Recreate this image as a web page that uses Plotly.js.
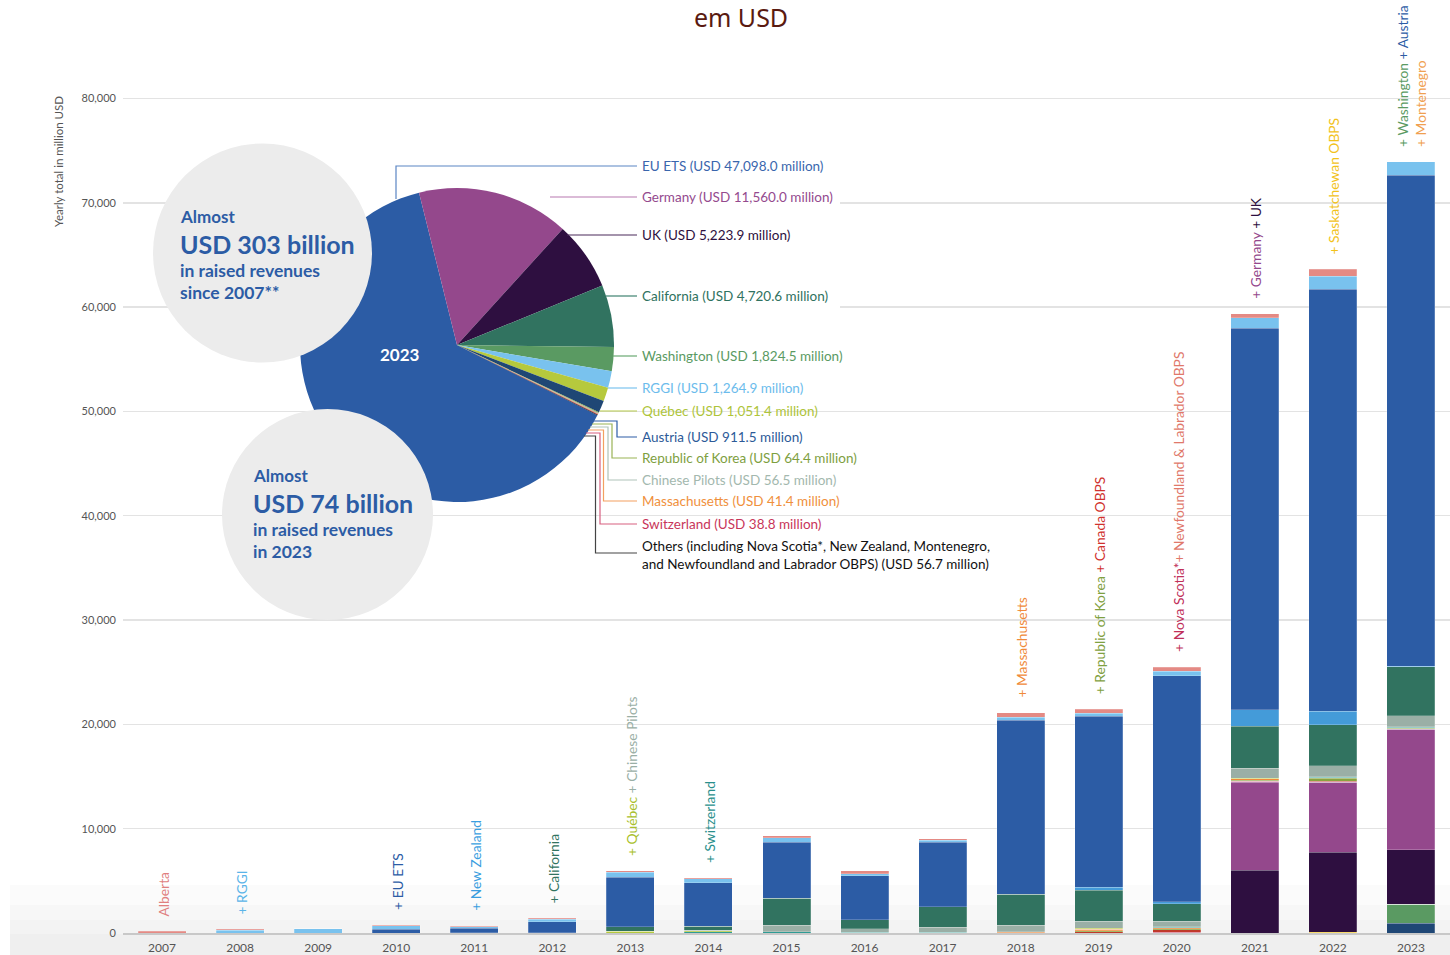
<!DOCTYPE html>
<html>
<head>
<meta charset="utf-8">
<script src="https://cdn.plot.ly/plotly-3.0.1.min.js"></script>
<style>html,body{margin:0;padding:0;background:#fff;}#chart{width:1450px;height:955px;}</style>
</head>
<body>
<div id="chart"></div>
<script>
// ---------------- DATA ----------------
const years = ['2007','2008','2009','2010','2011','2012','2013','2014','2015','2016','2017','2018','2019','2020','2021','2022','2023'];

// stacked series, bottom to top (million USD)
const austria       = [0,0,0,0,0,0,0,0,0,0,0,0,0,0,0,0,911.5];
const washington    = [0,0,0,0,0,0,0,0,0,0,0,0,0,0,0,0,1824.5];
const montenegro    = [0,0,0,0,0,0,0,0,0,0,0,0,0,0,0,0,15];
const saskatchewan  = [0,0,0,0,0,0,0,0,0,0,0,0,0,0,0,60,0];
const uk            = [0,0,0,0,0,0,0,0,0,0,0,0,0,0,6010,7670,5223.9];
const germany       = [0,0,0,0,0,0,0,0,0,0,0,0,0,0,8460,6710,11560];
const newfoundland  = [0,0,0,0,0,0,0,0,0,0,0,0,0,30,20,20,10];
const novaScotia    = [0,0,0,0,0,0,0,0,0,0,0,0,0,60,40,40,20];
const canadaObps    = [0,0,0,0,0,0,0,0,0,0,0,0,120,230,30,30,0];
const korea         = [0,0,0,0,0,0,0,0,0,0,0,0,120,100,80,320,64.4];
const massachusetts = [0,0,0,0,0,0,0,0,0,0,0,60,110,90,130,40,41.4];
const switzerland   = [0,0,0,0,0,0,0,100,100,60,60,40,20,20,30,30,38.8];
const chinesePilots = [0,0,0,0,0,0,150,130,20,20,20,20,80,60,50,40,56.5];
const quebec        = [0,0,0,0,0,0,0,50,640,320,480,640,680,540,960,1050,1051.4];
const california    = [0,0,0,0,0,20,450,380,2560,890,1980,2970,2970,1670,3990,3960,4720.6];
const newZealand    = [0,0,0,0,40,0,0,0,0,0,0,0,290,190,1600,1310,11.7];
const euEts         = [0,0,0,380,400,1050,4730,4150,5400,4190,6160,16670,16400,21680,36580,40450,47098];
const rggi          = [0,250,400,300,150,250,480,380,410,220,190,260,260,410,1020,1250,1264.9];
const alberta       = [150,100,30,70,80,100,170,130,190,260,160,440,380,410,350,670,0];

// 2023 pie (million USD)
const pieLabels = ['EU ETS','Germany','UK','California','Washington','RGGI','Québec','Austria','Republic of Korea','Chinese Pilots','Massachusetts','Switzerland','Others'];
const pieValues = [47098.0,11560.0,5223.9,4720.6,1824.5,1264.9,1051.4,911.5,64.4,56.5,41.4,38.8,56.7];
const othersLegend = 'Others (including Nova Scotia*, New Zealand, Montenegro,<br>and Newfoundland and Labrador OBPS)';

// rotated labels above bars
const barNotes = [
  {year:'2007', parts:[['Alberta','#e07f7f']]},
  {year:'2008', parts:[['+ RGGI','#5ab4e8']]},
  {year:'2010', parts:[['+ EU ETS','#2c5ca5']]},
  {year:'2011', parts:[['+ New Zealand','#3a9ee0']]},
  {year:'2012', parts:[['+ California','#317360']]},
  {year:'2013', parts:[['+ Québec','#a9bf2c'],[' + Chinese Pilots','#9aafa6']]},
  {year:'2014', parts:[['+ Switzerland','#2a8f8c']]},
  {year:'2018', parts:[['+ Massachusetts','#f08a3a']]},
  {year:'2019', parts:[['+ Republic of Korea','#7fa040'],[' + Canada OBPS','#d0312d']]},
  {year:'2020', parts:[['+ Nova Scotia*','#c0305a'],['+ Newfoundland & Labrador OBPS','#e0786a']]},
  {year:'2021', parts:[['+ Germany','#94488c'],[' + UK','#2e0f40']]},
  {year:'2022', parts:[['+ Saskatchewan OBPS','#f2c21a']]},
  {year:'2023', parts:[['+ Washington','#5a9a62'],[' + Austria','#2c5ca5'],['<br>',null],['+ Montenegro','#f0a050']]}
];

// ---------------- STYLE / GEOMETRY ----------------
const FONT = 'Lato, "Noto Sans", sans-serif';
const WIDTH = 1450, HEIGHT = 955, ML = 123, MR = 0, MT = 15, MB = 22;
const PW = WIDTH - ML - MR, PH = HEIGHT - MT - MB, BASE = HEIGHT - MB;
const YMAX = 88000;
const px = x => (x - ML) / PW;           // pixel -> paper x
const py = y => (BASE - y) / PH;         // pixel -> paper y
const cx = x => (x - ML) / PW * years.length - 0.5;  // pixel -> category coord
const cy = y => (BASE - y) / PH * YMAX;               // pixel -> value coord

const series = [
  ['Austria', austria, '#1f4775'],
  ['Washington', washington, '#5a9a62'],
  ['Montenegro', montenegro, '#f0a050'],
  ['Saskatchewan OBPS', saskatchewan, '#f5c518'],
  ['UK', uk, '#2e0f40'],
  ['Germany', germany, '#94488c'],
  ['Newfoundland and Labrador OBPS', newfoundland, '#e0786a'],
  ['Nova Scotia', novaScotia, '#c8365a'],
  ['Canada OBPS', canadaObps, '#c0392b'],
  ['Republic of Korea', korea, '#8aa43f'],
  ['Massachusetts', massachusetts, '#f08a3a'],
  ['Switzerland', switzerland, '#2f9c95'],
  ['Chinese Pilots', chinesePilots, '#b5c93d'],
  ['Québec', quebec, '#9aafa6'],
  ['California', california, '#317360'],
  ['New Zealand', newZealand, '#449bd9'],
  ['EU ETS', euEts, '#2c5ca5'],
  ['RGGI', rggi, '#79c2ee'],
  ['Alberta', alberta, '#e48a84']
];

const pieColors = ['#2c5ca5','#94488c','#2e0f40','#317360','#5a9a62','#79c2ee','#b6c93d','#1f4775','#8aa43f','#a3b8ae','#f28c3c','#c8365a','#111111'];
const pieNoteStyle = [
  {y:166, tc:'#3a66ad', lc:'#5b85c4', path:[[396,199],[396,166],[637,166]]},
  {y:197, tc:'#944a8e', lc:'#b878b0', path:[[550,197],[637,197]]},
  {y:235, tc:'#2e1040', lc:'#4a2a5a', path:[[567,235],[637,235]]},
  {y:296, tc:'#2f7260', lc:'#3f8270', path:[[606,296],[637,296]]},
  {y:356, tc:'#5a9a62', lc:'#6aa872', path:[[613,356],[637,356]]},
  {y:388, tc:'#6cbcec', lc:'#7cc4ee', path:[[608,388],[637,388]]},
  {y:411, tc:'#aec43a', lc:'#b6c94a', path:[[600,411],[637,411]]},
  {y:437, tc:'#2d5a98', lc:'#2c5ca5', path:[[594,421],[617,421],[617,437],[637,437]]},
  {y:458, tc:'#7ea03f', lc:'#9ab355', path:[[592,424],[612,424],[612,458],[637,458]]},
  {y:480, tc:'#a3b8ae', lc:'#b0c4ba', path:[[590,427],[608,427],[608,480],[637,480]]},
  {y:501, tc:'#f0903c', lc:'#f3a060', path:[[588,430],[603.5,430],[603.5,501],[637,501]]},
  {y:524, tc:'#c8365a', lc:'#d86080', path:[[586,433],[600,433],[600,524],[637,524]]},
  {y:555, tc:'#111111', lc:'#444444', path:[[584,436],[595.5,436],[595.5,553],[637,553]]}
];

// ---------------- TRACES ----------------
const traces = series.map(([name, vals, color]) => ({
  type:'bar', name, x:years, y:vals,
  marker:{color, line:{color:'rgba(255,255,255,0.35)', width:0.6}},
  showlegend:false,
  hovertemplate:name+' %{x}: %{y:,.1f}<extra></extra>'
}));

const pieTotal = pieValues.reduce((a,b)=>a+b,0);
const germanyStart = -14;  // angle of EU ETS / Germany boundary
traces.push({
  type:'pie', labels:pieLabels, values:pieValues, sort:false, direction:'clockwise',
  rotation: germanyStart - 360*pieValues[0]/pieTotal,
  marker:{colors:pieColors, line:{width:0}}, textinfo:'none', showlegend:false,
  domain:{x:[px(300), px(614)], y:[py(502), py(188)]},
  hoverinfo:'label+value'
});

const totals = years.map((_, i) => series.reduce((a, s) => a + s[1][i], 0));

// ---------------- ANNOTATIONS ----------------
const fmt = v => v.toLocaleString('en-US',{minimumFractionDigits:1, maximumFractionDigits:1});
const annotations = [];

barNotes.forEach(n => {
  const i = years.indexOf(n.year);
  annotations.push({
    x:i, y:totals[i], xref:'x', yref:'y', showarrow:false,
    textangle:-90, xanchor:'center', yanchor:'bottom', yshift:13, xshift:1, align:'left',
    text:n.parts.map(([t,c]) => c ? `<span style="color:${c}">${t}</span>` : t).join(''),
    font:{family:FONT, size:13.8, color:'#555'}
  });
});

pieLabels.forEach((lab, i) => {
  const st = pieNoteStyle[i];
  const name = lab === 'Others' ? othersLegend : lab;
  annotations.push({
    x:px(640), y:py(st.y), xref:'paper', yref:'paper', showarrow:false,
    xanchor:'left', yanchor:'middle', align:'left',
    text:`${name} (USD ${fmt(pieValues[i])} million)`,
    font:{family:FONT, size:13.5, color:st.tc}
  });
});

const circleText = (x, lines) => lines.forEach(([t, y, size]) => annotations.push({
  x:px(x), y:py(y), xref:'paper', yref:'paper', showarrow:false, xanchor:'left', yanchor:'middle',
  text:'<b>'+t+'</b>', font:{family:FONT, size, color:'#2c5ca5'}
}));
circleText(178, [['Almost',217,17],['USD 303 billion',244,25],['in raised revenues',270,17.5],['since 2007**',292,17.5]]);
circleText(251, [['Almost',476,17],['USD 74 billion',503,25],['in raised revenues',529,17.5],['in 2023',551,17.5]]);

annotations.push({x:px(400), y:py(354), xref:'paper', yref:'paper', showarrow:false, xanchor:'center', yanchor:'middle',
  text:'<b>2023</b>', font:{family:FONT, size:17, color:'#ffffff'}});
annotations.push({x:px(58), y:py(162), xref:'paper', yref:'paper', showarrow:false, textangle:-90,
  xanchor:'center', yanchor:'middle', text:'Yearly total in million USD', font:{family:FONT, size:11.5, color:'#555'}});

// ---------------- SHAPES ----------------
const shapes = [];
[885, 905, 920, 934].forEach(y0 => shapes.push({type:'rect', xref:'paper', yref:'paper', layer:'below',
  x0:px(10), x1:px(1450), y0:py(955), y1:py(y0), fillcolor:'rgba(0,0,0,0.016)', line:{width:0}}));
// white patch hiding grid behind pie labels
shapes.push({type:'rect', xref:'x', yref:'y', layer:'between', x0:cx(358), x1:cx(840), y0:cy(313), y1:cy(192),
  fillcolor:'#ffffff', line:{width:0}});
// circles
shapes.push({type:'circle', xref:'paper', yref:'paper', layer:'above', x0:px(153), x1:px(372), y0:py(362.5), y1:py(143.5),
  fillcolor:'#ececec', line:{width:0}});
shapes.push({type:'circle', xref:'paper', yref:'paper', layer:'above', x0:px(222), x1:px(433), y0:py(620), y1:py(409),
  fillcolor:'#ececec', line:{width:0}});
// leader lines
pieNoteStyle.forEach(st => {
  const d = st.path.map((p, k) => (k ? 'L' : 'M') + px(p[0]) + ',' + py(p[1])).join(' ');
  shapes.push({type:'path', xref:'paper', yref:'paper', layer:'above', path:d, line:{color:st.lc, width:1.2}});
});

// ---------------- LAYOUT ----------------
const layout = {
  width:WIDTH, height:HEIGHT,
  margin:{l:ML, r:MR, t:MT, b:MB, pad:0},
  paper_bgcolor:'#ffffff', plot_bgcolor:'rgba(0,0,0,0)',
  font:{family:FONT, color:'#555'},
  barmode:'stack', bargap:0.385,
  title:{text:'em USD', font:{family:'"Noto Sans", sans-serif', size:25, color:'#5a1a10'},
    x:741/WIDTH, xref:'container', xanchor:'center', y:1-18/HEIGHT, yref:'container', yanchor:'middle'},
  xaxis:{type:'category', range:[-0.5, years.length-0.5], showgrid:false, zeroline:false,
    showline:true, linecolor:'#c8c8c8', linewidth:2, ticks:'', ticklabelstandoff:3,
    tickfont:{size:12, color:'#555'}, fixedrange:true},
  yaxis:{range:[0, YMAX], tickvals:[0,10000,20000,30000,40000,50000,60000,70000,80000], tickformat:',d',
    showgrid:true, gridcolor:'#e3e3e3', gridwidth:1.5, zeroline:false, ticks:'', ticklabelstandoff:6,
    tickfont:{size:11, color:'#555'}, fixedrange:true},
  annotations, shapes, showlegend:false
};

Plotly.newPlot('chart', traces, layout, {displayModeBar:false, staticPlot:true});
</script>
</body>
</html>
